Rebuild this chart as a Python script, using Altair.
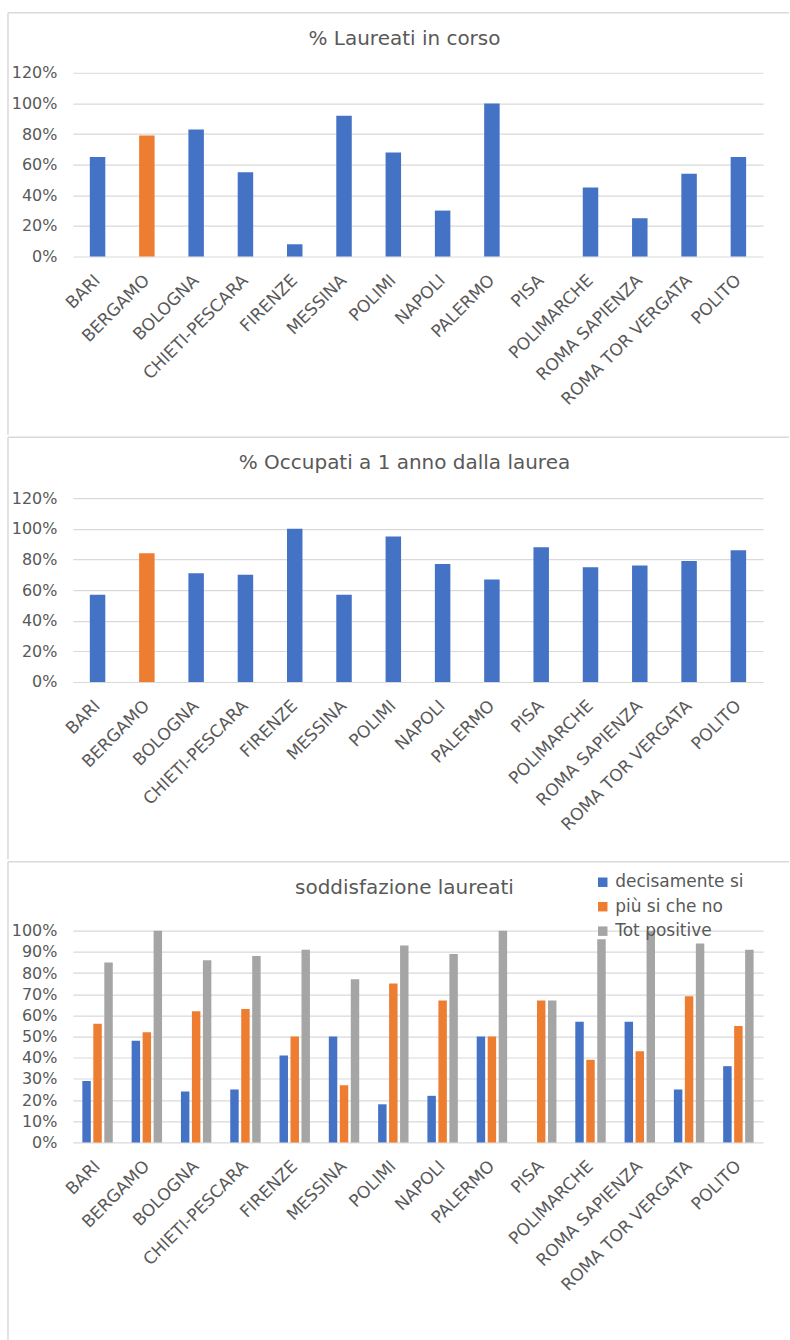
import altair as alt
import pandas as pd

cats = ["BARI", "BERGAMO", "BOLOGNA", "CHIETI-PESCARA", "FIRENZE", "MESSINA", "POLIMI",
        "NAPOLI", "PALERMO", "PISA", "POLIMARCHE", "ROMA SAPIENZA", "ROMA TOR VERGATA", "POLITO"]
highlight = "BERGAMO"

laureati_in_corso = [0.65, 0.79, 0.83, 0.55, 0.08, 0.92, 0.68, 0.30, 1.00, None, 0.45, 0.25, 0.54, 0.65]
occupati_1_anno = [0.57, 0.84, 0.71, 0.70, 1.00, 0.57, 0.95, 0.77, 0.67, 0.88, 0.75, 0.76, 0.79, 0.86]

series_names = ["decisamente si", "più si che no", "Tot positive"]
decisamente_si = [0.29, 0.48, 0.24, 0.25, 0.41, 0.50, 0.18, 0.22, 0.50, None, 0.57, 0.57, 0.25, 0.36]
piu_si_che_no = [0.56, 0.52, 0.62, 0.63, 0.50, 0.27, 0.75, 0.67, 0.50, 0.67, 0.39, 0.43, 0.69, 0.55]
tot_positive = [0.85, 1.00, 0.86, 0.88, 0.91, 0.77, 0.93, 0.89, 1.00, 0.67, 0.96, 1.00, 0.94, 0.91]

BLUE = "#4472C4"
ORANGE = "#ED7D31"
GREY = "#A5A5A5"
GRID = "#D9D9D9"
TEXT = "#595959"
FONT = "DejaVu Sans"

W = 691
LEFT = -65     # chart-area left edge relative to plot
RIGHT = 717    # chart-area right edge relative to plot


def frame_layers(top, bottom, title, title_y):
    d = pd.DataFrame({"k": [0]})
    top_rule = alt.Chart(d).mark_rule(color=GRID, strokeWidth=1.5).encode(
        x=alt.value(LEFT), x2=alt.value(RIGHT), y=alt.value(top))
    left_rule = alt.Chart(d).mark_rule(color=GRID, strokeWidth=1.5).encode(
        x=alt.value(LEFT), y=alt.value(top), y2=alt.value(bottom))
    ttl = alt.Chart(d).mark_text(text=title, font=FONT, fontSize=20, color=TEXT,
                                 align="center", baseline="middle").encode(
        x=alt.value(332), y=alt.value(title_y))
    return [top_rule, left_rule, ttl]


def x_enc(pi, po):
    return alt.X("uni:N", sort=cats, title=None,
                 scale=alt.Scale(paddingInner=pi, paddingOuter=po),
                 axis=alt.Axis(labelAngle=-45, labelFontSize=17, ticks=False, domain=False,
                               labelAlign="right", labelBaseline="middle",
                               labelPadding=21, grid=False))


def y_axis(vals):
    return alt.Axis(values=vals, format=".0%", labelFontSize=16, ticks=False, domain=False,
                    labelPadding=16, grid=True, gridColor=GRID, gridWidth=1.2)


def single_panel(values, title, top, bottom, title_y, height):
    df = pd.DataFrame({"uni": cats, "val": values})
    bars = alt.Chart(df).mark_bar(size=15.5).encode(
        x=x_enc(0.5, 0.25),
        y=alt.Y("val:Q", title=None,
                scale=alt.Scale(domain=[0, 1.2], nice=False),
                axis=y_axis([0, 0.2, 0.4, 0.6, 0.8, 1.0, 1.2])),
        color=alt.condition(alt.datum.uni == highlight, alt.value(ORANGE), alt.value(BLUE)),
    )
    return alt.layer(bars, *frame_layers(top, bottom, title, title_y)).properties(width=W, height=height)


p1 = single_panel(laureati_in_corso, "% Laureati in corso", -60, 362.5, -34, 184)
p2 = single_panel(occupati_1_anno, "% Occupati a 1 anno dalla laurea", -61, 361.5, -35, 184)

rows = []
for i, c in enumerate(cats):
    for s, vals in zip(series_names, [decisamente_si, piu_si_che_no, tot_positive]):
        rows.append({"uni": c, "serie": s, "val": vals[i]})
df3 = pd.DataFrame(rows)

bars3 = alt.Chart(df3).mark_bar().encode(
    x=x_enc(0.383, 0.1915),
    xOffset=alt.XOffset("serie:N", sort=series_names,
                        scale=alt.Scale(paddingInner=0.23, paddingOuter=0)),
    y=alt.Y("val:Q", title=None,
            scale=alt.Scale(domain=[0, 1.0], nice=False),
            axis=y_axis([i / 10 for i in range(11)])),
    color=alt.Color("serie:N", sort=series_names,
                    scale=alt.Scale(domain=series_names, range=[BLUE, ORANGE, GREY]),
                    legend=alt.Legend(title=None, orient="none", legendX=522, legendY=-57,
                                      symbolType="square", symbolSize=90, labelFontSize=17,
                                      labelFont=FONT, labelColor=TEXT, rowPadding=6.5,
                                      symbolStrokeWidth=0, padding=0, labelOffset=4)),
)
p3 = alt.layer(bars3, *frame_layers(-69, 409.5, "soddisfazione laureati", -43)).properties(
    width=W, height=212)

chart = alt.vconcat(p1, p2, p3, spacing=0).resolve_legend(color="independent").properties(
    padding={"left": 7, "top": 11, "right": 0, "bottom": 0}
).configure_view(strokeWidth=0).configure_axis(
    labelFont=FONT, labelColor=TEXT
).configure_concat(spacing=0)

chart.save("out.html", embed_options={"renderer": "svg", "actions": False})
